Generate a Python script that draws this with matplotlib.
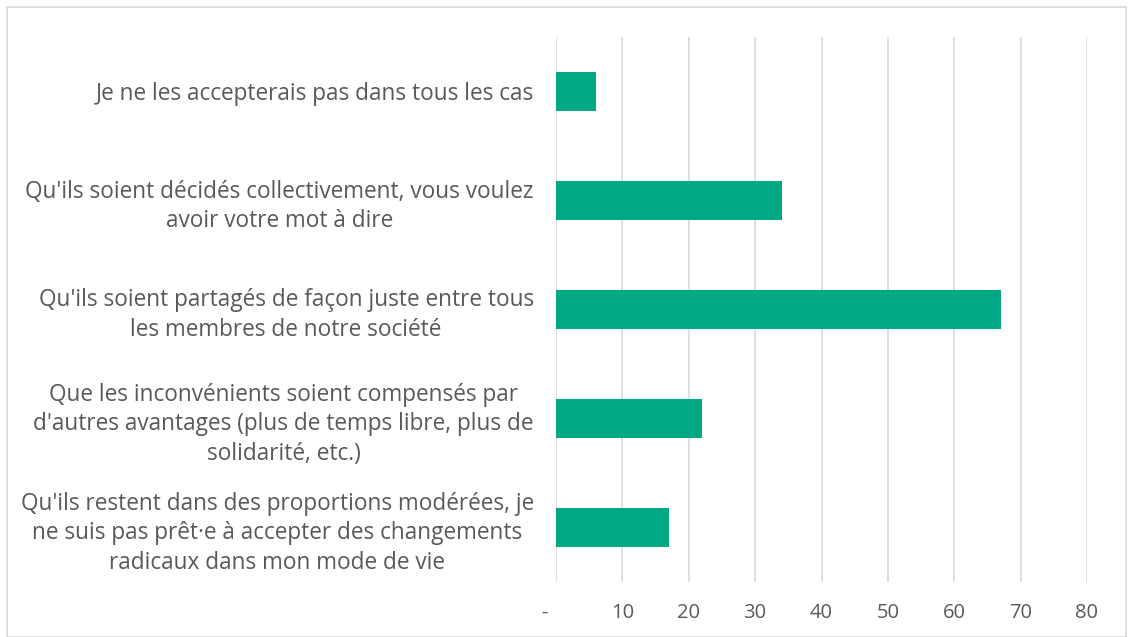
import matplotlib
matplotlib.use("Agg")
import matplotlib.pyplot as plt
from matplotlib.patches import Rectangle

categories = [
    "Je ne les accepterais pas dans tous les cas",
    "Qu'ils soient décidés collectivement, vous voulez\navoir votre mot à dire",
    "Qu'ils soient partagés de façon juste entre tous\nles membres de notre société",
    "Que les inconvénients soient compensés par\nd'autres avantages (plus de temps libre, plus de\nsolidarité, etc.)",
    "Qu'ils restent dans des proportions modérées, je\nne suis pas prêt·e à accepter des changements\nradicaux dans mon mode de vie",
]
values = [6, 34, 67, 22, 17]
xticks = [0, 10, 20, 30, 40, 50, 60, 70, 80]
xticklabels = ["-    ", "10", "20", "30", "40", "50", "60", "70", "80"]

plt.rcParams['font.family'] = ['Open Sans', 'DejaVu Sans']

fig = plt.figure(figsize=(11.33, 6.37), dpi=100)
ax = fig.add_axes([556/1133, 1-582/637, (1087-556)/1133, (582-37)/637])

y = list(range(len(categories)))
ax.barh(y, values, height=0.35, color="#00A884", zorder=3)
ax.set_ylim(len(categories)-0.5, -0.5)
ax.set_xlim(0, 80)

ax.set_xticks(xticks)
ax.set_xticklabels(xticklabels, fontsize=14.5, color="#595959")
ax.set_yticks(y)
ax.set_yticklabels(categories, fontsize=16.3, color="#595959", multialignment='center', linespacing=1.3)
ax.tick_params(axis='both', length=0)
ax.tick_params(axis='x', pad=15)
ax.tick_params(axis='y', pad=16)
ax.grid(axis='x', color="#d9d9d9", linewidth=1.2, zorder=0)
for s in ax.spines.values():
    s.set_visible(False)

fig.patches.append(Rectangle((7/1133, 0), 1-14/1133, 1-7/637, transform=fig.transFigure,
                             fill=False, edgecolor="#d9d9d9", linewidth=1.2))

fig.savefig("out.png", dpi=100)
